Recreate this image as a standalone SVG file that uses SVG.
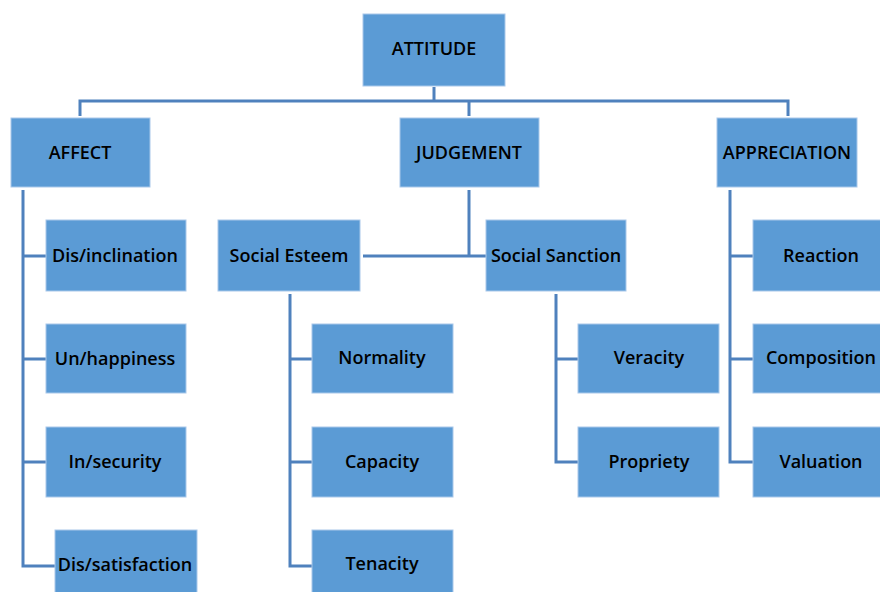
<svg xmlns="http://www.w3.org/2000/svg" width="880" height="592" viewBox="0 0 880 592">
<style>
.box{fill:#5B9BD5;stroke:#A9C8EA;stroke-width:1}
.t{font-family:"Open Sans","Liberation Sans",Arial,sans-serif;font-size:18px;font-weight:600;fill:#000;text-anchor:middle;dominant-baseline:central}
.c{fill:none;stroke:#4F81BD;stroke-width:3}
</style>
<rect width="880" height="592" fill="#fff"/>
<g id="connectors">
<path class="c" d="M434 87V101M80 116V101H788V116M469 101V116"/>
<path class="c" d="M23 190V566H55M23 256H46M23 359H46M23 462H46"/>
<path class="c" d="M469 190V256M363 256H486"/>
<path class="c" d="M290 294V566H312M290 359H312M290 462H312"/>
<path class="c" d="M556 294V462H578M556 359H578"/>
<path class="c" d="M730 190V462H753M730 256H753M730 359H753"/>
</g>
<g id="attitude"><rect class="box" x="363" y="14" width="142" height="72"/><text class="t" x="434" y="48">ATTITUDE</text></g>
<g id="affect"><rect class="box" x="11" y="118" width="139" height="69"/><text class="t" x="80" y="152">AFFECT</text></g>
<g id="judgement"><rect class="box" x="400" y="118" width="139" height="69"/><text class="t" x="469" y="152">JUDGEMENT</text></g>
<g id="appreciation"><rect class="box" x="717" y="118" width="140" height="69"/><text class="t" x="787" y="152">APPRECIATION</text></g>
<g id="disinclination"><rect class="box" x="46" y="220" width="140" height="71"/><text class="t" x="115" y="255">Dis/inclination</text></g>
<g id="unhappiness"><rect class="box" x="46" y="324" width="140" height="69"/><text class="t" x="115" y="358">Un/happiness</text></g>
<g id="insecurity"><rect class="box" x="46" y="427" width="140" height="70"/><text class="t" x="115" y="461">In/security</text></g>
<g id="dissatisfaction"><rect class="box" x="55" y="530" width="142" height="66"/><text class="t" x="125" y="564">Dis/satisfaction</text></g>
<g id="socialesteem"><rect class="box" x="218" y="220" width="142" height="71"/><text class="t" x="289" y="255">Social Esteem</text></g>
<g id="socialsanction"><rect class="box" x="486" y="220" width="140" height="71"/><text class="t" x="556" y="255">Social Sanction</text></g>
<g id="normality"><rect class="box" x="312" y="324" width="141" height="69"/><text class="t" x="382" y="357">Normality</text></g>
<g id="capacity"><rect class="box" x="312" y="427" width="141" height="70"/><text class="t" x="382" y="461">Capacity</text></g>
<g id="tenacity"><rect class="box" x="312" y="530" width="141" height="66"/><text class="t" x="382" y="563">Tenacity</text></g>
<g id="veracity"><rect class="box" x="578" y="324" width="141" height="69"/><text class="t" x="649" y="357">Veracity</text></g>
<g id="propriety"><rect class="box" x="578" y="427" width="141" height="70"/><text class="t" x="649" y="461">Propriety</text></g>
<g id="reaction"><rect class="box" x="753" y="220" width="130" height="71"/><text class="t" x="821" y="255">Reaction</text></g>
<g id="composition"><rect class="box" x="753" y="324" width="130" height="69"/><text class="t" x="821" y="357">Composition</text></g>
<g id="valuation"><rect class="box" x="753" y="427" width="130" height="70"/><text class="t" x="821" y="461">Valuation</text></g>
</svg>
